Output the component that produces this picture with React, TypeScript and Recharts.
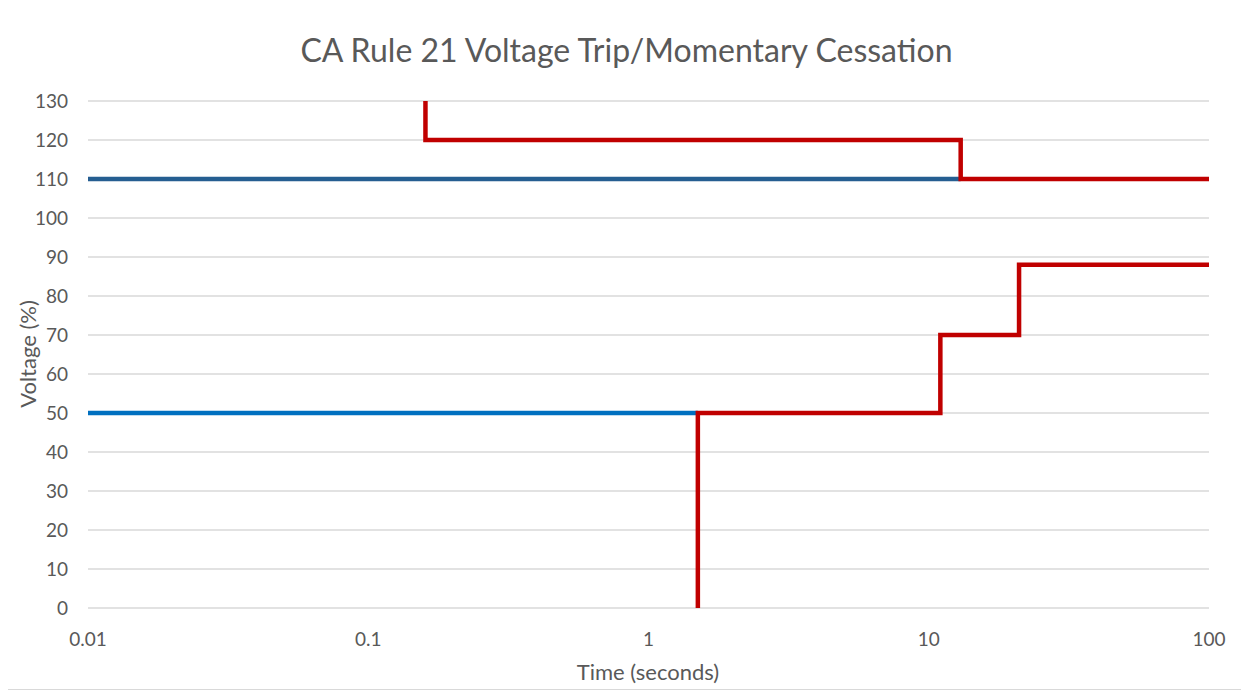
import { LineChart, Line, XAxis, YAxis, CartesianGrid } from 'recharts';

// Ride-through envelope (seconds vs % voltage)
const highTripTime = [0.16, 0.16, 13, 13, 100];
const highTripVolt = [130, 120, 120, 110, 110];
const lowTripTime = [1.5, 1.5, 11, 11, 21, 21, 100];
const lowTripVolt = [0, 50, 50, 70, 70, 88, 88];
const highCeaseTime = [0.01, 13];
const highCeaseVolt = [110, 110];
const lowCeaseTime = [0.01, 1.5];
const lowCeaseVolt = [50, 50];

const timeTicks = [0.01, 0.1, 1, 10, 100];
const voltTicks = [0, 10, 20, 30, 40, 50, 60, 70, 80, 90, 100, 110, 120, 130];

const toPoints = (t: number[], v: number[]) => t.map((time, i) => ({ time, volt: v[i] }));

const FONT = 'Lato, "Open Sans", sans-serif';
const TEXT = '#595959';

export default function App() {
  const series = [
    { key: 'highCease', data: toPoints(highCeaseTime, highCeaseVolt), color: '#255E91' },
    { key: 'lowCease', data: toPoints(lowCeaseTime, lowCeaseVolt), color: '#0070C0' },
    { key: 'highTrip', data: toPoints(highTripTime, highTripVolt), color: '#C00000' },
    { key: 'lowTrip', data: toPoints(lowTripTime, lowTripVolt), color: '#C00000' },
  ];

  return (
    <div
      style={{
        position: 'relative',
        width: 1237,
        height: 682,
        margin: '-2px 0 0 -1px',
        border: '1px solid #d9d9d9',
        background: '#fff',
        fontFamily: FONT,
      }}
    >
      <div
        style={{
          position: 'absolute',
          top: 23,
          left: 0,
          width: '100%',
          textAlign: 'center',
          fontSize: 32,
          color: TEXT,
          lineHeight: '40px',
        }}
      >
        CA Rule 21 Voltage Trip/Momentary Cessation
      </div>
      <div
        style={{
          position: 'absolute',
          top: 652,
          left: 80,
          width: 1120,
          textAlign: 'center',
          fontSize: 22,
          color: TEXT,
          lineHeight: '26px',
        }}
      >
        Time (seconds)
      </div>
      <div
        style={{
          position: 'absolute',
          left: 20,
          top: 347,
          transform: 'translate(-50%, -50%) rotate(-90deg)',
          whiteSpace: 'nowrap',
          fontSize: 22,
          color: TEXT,
          lineHeight: '26px',
        }}
      >
        Voltage (%)
      </div>
      <LineChart
        width={1237}
        height={682}
        margin={{ top: 94, right: 36, left: 0, bottom: 0 }}
        style={{ position: 'absolute', top: 0, left: 0 }}
      >
        <CartesianGrid vertical={false} stroke="#d9d9d9" strokeWidth={1.5} />
        <XAxis
          type="number"
          dataKey="time"
          scale="log"
          domain={[0.01, 100]}
          ticks={timeTicks}
          allowDataOverflow
          axisLine={false}
          tickLine={false}
          tickMargin={19}
          height={81}
          tick={{ fill: TEXT, fontSize: 19, fontFamily: FONT }}
          tickFormatter={(v: number) => String(v)}
        />
        <YAxis
          type="number"
          domain={[0, 130]}
          ticks={voltTicks}
          interval={0}
          axisLine={false}
          tickLine={false}
          tickMargin={14}
          width={80}
          tick={{ fill: TEXT, fontSize: 19, fontFamily: FONT }}
        />
        {series.map((s) => (
          <Line
            key={s.key}
            data={s.data}
            dataKey="volt"
            type="linear"
            stroke={s.color}
            strokeWidth={4.5}
            dot={false}
            activeDot={false}
            isAnimationActive={false}
          />
        ))}
      </LineChart>
    </div>
  );
}
